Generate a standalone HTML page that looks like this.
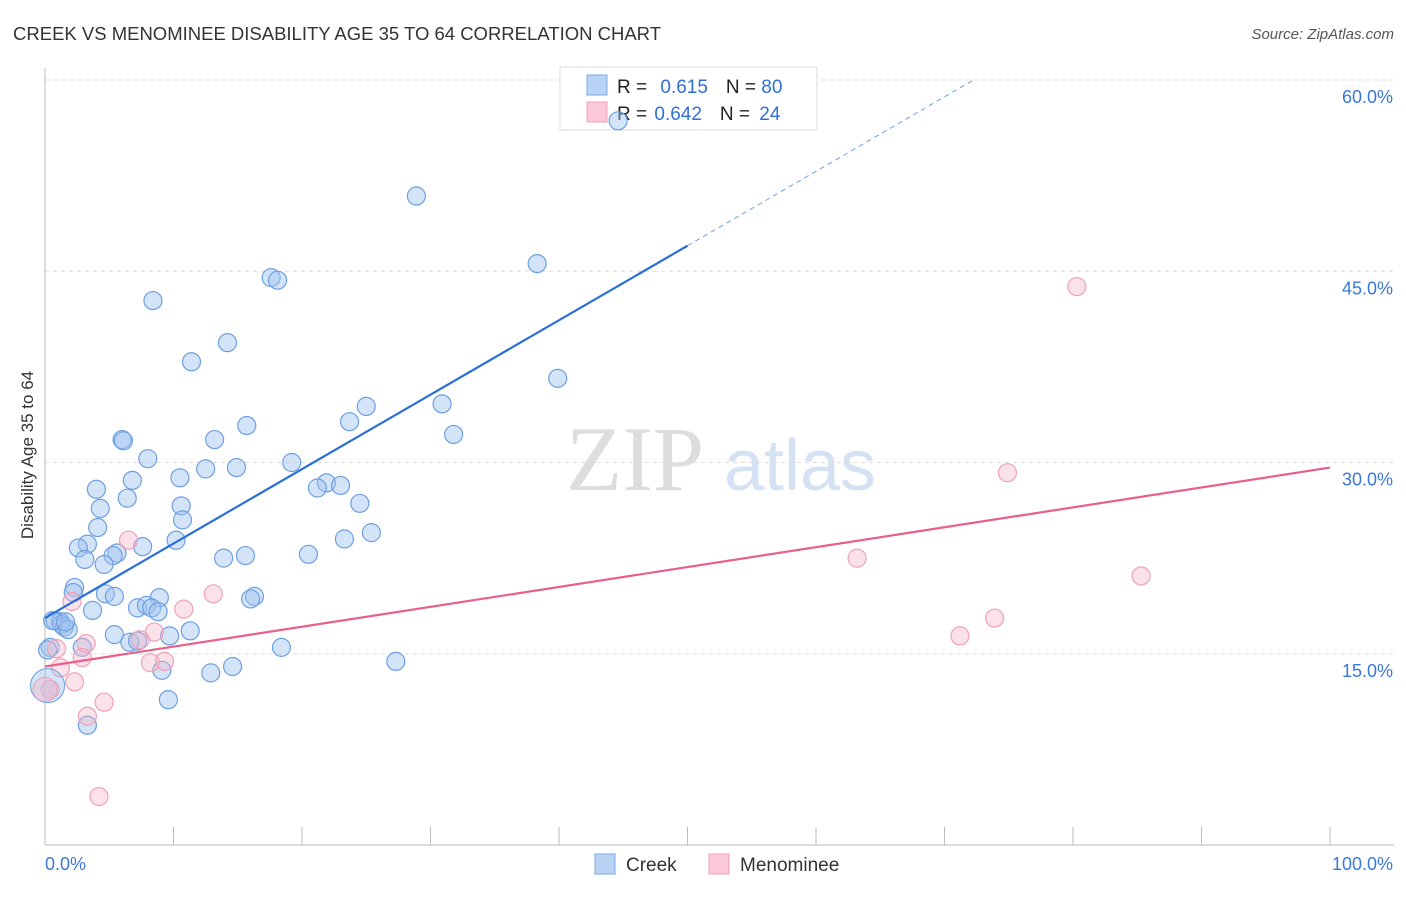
<!DOCTYPE html>
<html><head><meta charset="utf-8"><style>
body{margin:0;background:#fff;font-family:"Liberation Sans",sans-serif}
</style></head><body>
<svg id="chart" width="1406" height="892" xmlns="http://www.w3.org/2000/svg">
<text x="13" y="40" font-size="18.5" fill="#333" textLength="648">CREEK VS MENOMINEE DISABILITY AGE 35 TO 64 CORRELATION CHART</text>
<text x="1394" y="39" font-size="15" fill="#555" font-style="italic" text-anchor="end">Source: ZipAtlas.com</text>
<text x="33" y="455" font-size="17" fill="#333" text-anchor="middle" transform="rotate(-90 33 455)">Disability Age 35 to 64</text>
<g><text x="635" y="490" font-size="92" fill="#ddd" font-family="Liberation Serif,serif" text-anchor="middle">ZIP</text><text x="800" y="490" font-size="72" fill="#d4e2f4" text-anchor="middle">atlas</text></g>
<g id="grid"></g><g id="axes"></g>
<g>
<rect x="560" y="67" width="257" height="63" fill="#fff" stroke="#ddd"/>
<rect x="587" y="75" width="20" height="20" fill="#b9d3f5" stroke="#7aa8e4"/>
<rect x="587" y="102" width="20" height="20" fill="#fbc9d7" stroke="#f0a0b8"/>
<text x="617" y="93" font-size="19" fill="#222">R = <tspan fill="#2f6fd6" dx="8">0.615</tspan><tspan dx="18" fill="#222">N = </tspan><tspan fill="#2f6fd6">80</tspan></text>
<text x="617" y="120" font-size="19" fill="#222">R = <tspan fill="#2f6fd6" dx="2">0.642</tspan><tspan dx="18" fill="#222">N = </tspan><tspan fill="#2f6fd6" dx="4">24</tspan></text>
</g>
<g id="pts"></g><g id="lines"></g>
<g>
<rect x="595" y="854" width="20" height="20" fill="#b9d3f5" stroke="#7aa8e4"/>
<text x="626" y="871" font-size="19" fill="#333">Creek</text>
<rect x="709" y="854" width="20" height="20" fill="#fbc9d7" stroke="#f0a0b8"/>
<text x="740" y="871" font-size="19" fill="#333">Menominee</text>
</g>
</svg>
<script>
const yTicks=[15,30,45,60];
const yTickLabels=["15.0%","30.0%","45.0%","60.0%"];
const xTicks=[0,10,20,30,40,50,60,70,80,90,100];
const creekX=[44.6,28.9,38.3,17.6,18.1,8.4,14.2,11.4,39.9,30.9,25.0,23.7,15.7,31.8,6.0,6.1,13.2,8.0,19.2,14.9,12.5,10.5,4.0,6.8,21.9,23.0,21.2,6.4,4.3,24.5,10.6,10.7,4.1,25.4,23.3,10.2,3.3,2.6,7.6,5.6,5.3,20.5,15.6,13.9,3.1,4.6,2.3,2.2,16.3,16.0,4.7,5.4,8.9,3.7,7.2,7.9,8.3,8.8,0.8,1.2,1.3,1.5,1.8,5.4,9.7,11.3,6.6,7.2,0.4,2.9,18.4,27.3,14.6,12.9,9.1,9.6,3.3,0.2,0.6,1.6];
const creekY=[56.8,50.9,45.6,44.5,44.3,42.7,39.4,37.9,36.6,34.6,34.4,33.2,32.9,32.2,31.8,31.7,31.8,30.3,30.0,29.6,29.5,28.8,27.9,28.6,28.4,28.2,28.0,27.2,26.4,26.8,26.6,25.5,24.9,24.5,24.0,23.9,23.6,23.3,23.4,22.9,22.7,22.8,22.7,22.5,22.4,22.0,20.2,19.8,19.5,19.3,19.7,19.5,19.4,18.4,18.6,18.8,18.6,18.3,17.6,17.5,17.3,17.1,16.9,16.5,16.4,16.8,15.9,16.0,15.5,15.5,15.5,14.4,14.0,13.5,13.7,11.4,9.4,15.3,17.6,17.5];
const menX=[2.1,6.5,13.1,10.8,8.5,7.4,3.2,0.9,1.2,2.9,8.2,9.3,2.3,0.4,4.6,3.3,4.2,80.3,74.9,63.2,85.3,73.9,71.2];
const menY=[19.1,23.9,19.7,18.5,16.7,16.1,15.8,15.4,13.9,14.7,14.3,14.4,12.8,12.2,11.2,10.1,3.8,43.8,29.2,22.5,21.1,17.8,16.4];
const creekBig=[0.2,12.5];const menBig=[0.0,12.2];
const creekTrend=[17.8,0.584];const menTrend=[14.0,0.156];
const NS="http://www.w3.org/2000/svg";
const X=v=>45+v*12.85, Y=v=>845-v*12.75;
function mk(tag,attrs,parent){const e=document.createElementNS(NS,tag);for(const k in attrs)e.setAttribute(k,attrs[k]);document.getElementById(parent).appendChild(e);return e;}
yTicks.forEach((t,i)=>{
 const g=mk('line',{x1:45,x2:1394,y1:Y(t),y2:Y(t),stroke:'#ddd','stroke-dasharray':'4,4'},'grid');
 
 
 const l=mk('text',{x:1393,y:Y(t)+23,'font-size':18,fill:'#3a78d8','text-anchor':'end'},'axes');l.textContent=yTickLabels[i];
 
 
});
const ax=mk('line',{x1:45,x2:45,y1:68,y2:845,stroke:'#bbb'},'axes');


const bx=mk('line',{x1:45,x2:1394,y1:845,y2:845,stroke:'#bbb'},'axes');


xTicks.forEach(t=>{const e=mk('line',{x1:X(t),x2:X(t),y1:827,y2:845,stroke:'#bbb'},'axes');
 
 });
[[0,'0.0%','start',45],[100,'100.0%','end',1393]].forEach(a=>{const e=mk('text',{x:a[3],y:870,'font-size':18,fill:'#3a78d8','text-anchor':a[2]},'axes');e.textContent=a[1];
 
 });
function dots(xs,ys,fill,stroke,name){xs.forEach((x,i)=>{const c=mk('circle',{cx:X(x),cy:Y(ys[i]),r:9,fill:fill,stroke:stroke,'stroke-width':1.2},'pts');
 
 });}
dots(creekX,creekY,'rgba(160,195,240,0.45)','#6d9fe0','creek-point');
dots(menX,menY,'rgba(246,180,200,0.4)','#f0a0b8','menominee-point');
const cb=mk('circle',{cx:X(creekBig[0]),cy:Y(creekBig[1]),r:17,fill:'rgba(160,195,240,0.45)',stroke:'#6d9fe0'},'pts');


const mb=mk('circle',{cx:X(menBig[0]),cy:Y(menBig[1]),r:12,fill:'rgba(246,180,200,0.4)',stroke:'#f0a0b8'},'pts');


const cAt=v=>creekTrend[0]+creekTrend[1]*v;
const l1=mk('line',{x1:X(0),y1:Y(cAt(0)),x2:X(50),y2:Y(cAt(50)),stroke:'#2a6fd6','stroke-width':2.2},'lines');


const xe=(60-creekTrend[0])/creekTrend[1];
const l2=mk('line',{x1:X(50),y1:Y(cAt(50)),x2:X(xe),y2:Y(60),stroke:'#6d9fe0','stroke-width':1,'stroke-dasharray':'5,4'},'lines');


const l3=mk('line',{x1:X(0),y1:Y(menTrend[0]),x2:X(100),y2:Y(menTrend[0]+menTrend[1]*100),stroke:'#e8608a','stroke-width':2.2},'lines');


</script>
</body></html>
